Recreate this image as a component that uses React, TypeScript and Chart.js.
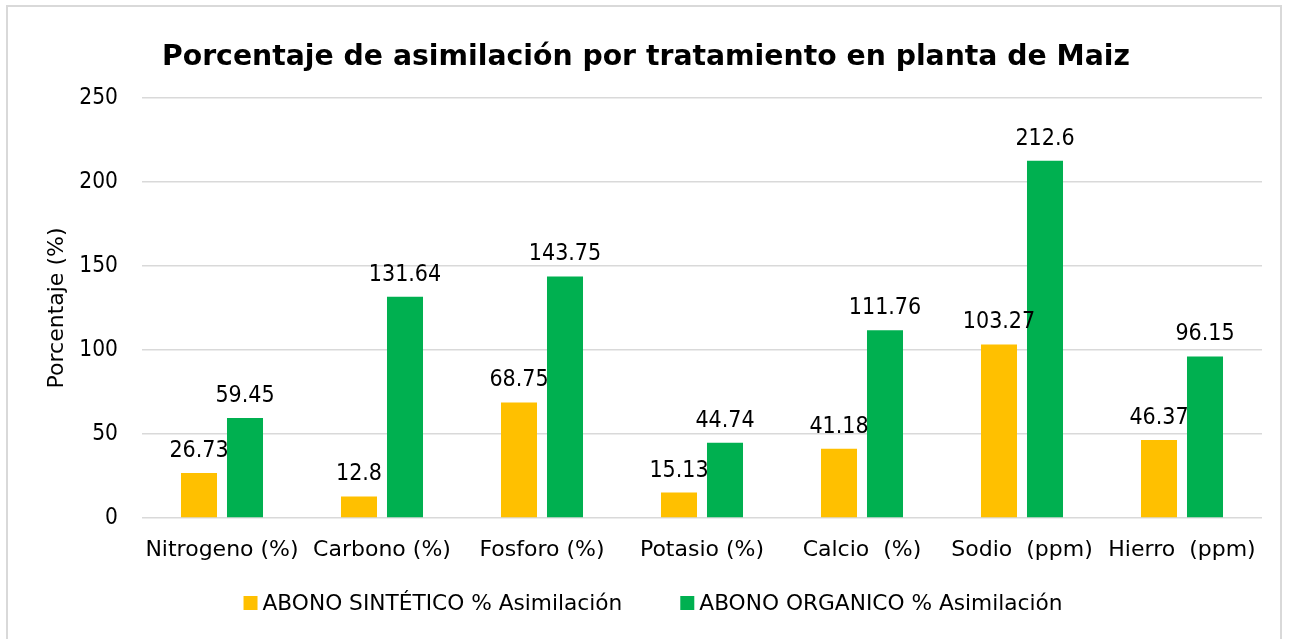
import React, { useEffect, useRef } from "react";
import { Chart, registerables } from "chart.js";

Chart.register(...registerables);

const categories = [
  "Nitrogeno (%)",
  "Carbono (%)",
  "Fosforo (%)",
  "Potasio (%)",
  "Calcio  (%)",
  "Sodio  (ppm)",
  "Hierro  (ppm)",
];
const sinteticoValues = [26.73, 12.8, 68.75, 15.13, 41.18, 103.27, 46.37];
const organicoValues = [59.45, 131.64, 143.75, 44.74, 111.76, 212.6, 96.15];
const yTickValues = [0, 50, 100, 150, 200, 250];
const seriesNames = ["ABONO SINTÉTICO % Asimilación", "ABONO ORGANICO % Asimilación"];
const seriesColors = ["#FFC000", "#00B050"];
const titleText = "Porcentaje de asimilación por tratamiento en planta de Maiz";
const yAxisTitle = "Porcentaje (%)";

const NUM_FONT = '"DejaVu Sans Condensed", "DejaVu Sans", sans-serif';
const TEXT_FONT = '"DejaVu Sans", sans-serif';

const valueLabels = {
  id: "valueLabels",
  afterDatasetsDraw(chart: any) {
    const ctx = chart.ctx;
    ctx.save();
    ctx.font = `23px ${NUM_FONT}`;
    ctx.fillStyle = "#000";
    ctx.textAlign = "center";
    ctx.textBaseline = "alphabetic";
    chart.data.datasets.forEach((ds: any, i: number) => {
      const meta = chart.getDatasetMeta(i);
      meta.data.forEach((el: any, j: number) => {
        ctx.fillText(String(ds.data[j]), el.x, el.y - 16);
      });
    });
    ctx.restore();
  },
};

const bottomLegend = {
  id: "bottomLegend",
  afterDraw(chart: any) {
    const ctx = chart.ctx;
    const box = 14;
    const gap = 5;
    const spacing = 58;
    const cy = 603;
    ctx.save();
    ctx.font = `21.7px ${TEXT_FONT}`;
    const items = chart.data.datasets.map((ds: any) => ({
      text: ds.label,
      color: ds.backgroundColor,
      w: box + gap + ctx.measureText(ds.label).width,
    }));
    const total = items.reduce((s: number, it: any) => s + it.w, 0) + spacing * (items.length - 1);
    let x = chart.width / 2 + 7 - total / 2;
    ctx.textAlign = "left";
    ctx.textBaseline = "middle";
    items.forEach((it: any) => {
      ctx.fillStyle = it.color;
      ctx.fillRect(x, cy - box / 2, box, box);
      ctx.fillStyle = "#000";
      ctx.fillText(it.text, x + box + gap, cy + 1);
      x += it.w + spacing;
    });
    ctx.restore();
  },
};

export default function App() {
  const ref = useRef<HTMLCanvasElement | null>(null);

  useEffect(() => {
    if (!ref.current) return;
    const chart = new Chart(ref.current, {
      type: "bar",
      data: {
        labels: categories,
        datasets: [
          {
            label: seriesNames[0],
            data: sinteticoValues,
            backgroundColor: seriesColors[0],
            barPercentage: 0.783,
            categoryPercentage: 0.575,
          },
          {
            label: seriesNames[1],
            data: organicoValues,
            backgroundColor: seriesColors[1],
            barPercentage: 0.783,
            categoryPercentage: 0.575,
          },
        ],
      },
      options: {
        responsive: false,
        animation: false,
        devicePixelRatio: 1,
        layout: { padding: { top: 20, left: 30, right: 30, bottom: 61 } },
        plugins: {
          title: {
            display: true,
            text: titleText,
            color: "#000",
            font: { family: TEXT_FONT, size: 28.3, weight: "bold" },
            padding: { top: 20.5, bottom: 23.5 },
          },
          legend: { display: false },
          tooltip: { enabled: false },
        },
        scales: {
          x: {
            afterFit(scale: any) {
              scale.height = 60;
            },
            grid: { display: false },
            border: { display: false },
            ticks: {
              color: "#000",
              padding: 11,
              maxRotation: 0,
              autoSkip: false,
              font: { family: TEXT_FONT, size: 22 },
            },
          },
          y: {
            min: 0,
            max: 250,
            afterFit(scale: any) {
              scale.width = 112;
            },
            afterBuildTicks(scale: any) {
              scale.ticks = yTickValues.map((v) => ({ value: v }));
            },
            grid: { color: "#D9D9D9", lineWidth: 1.5, drawTicks: false },
            border: { display: false },
            ticks: {
              color: "#000",
              padding: 24,
              font: { family: NUM_FONT, size: 22.5 },
            },
            title: {
              display: true,
              text: yAxisTitle,
              color: "#000",
              padding: 14,
              font: { family: TEXT_FONT, size: 22 },
            },
          },
        },
      },
      plugins: [valueLabels, bottomLegend],
    } as any);
    return () => chart.destroy();
  }, []);

  return (
    <div style={{ position: "fixed", left: 0, top: 0, width: 1292, height: 639, background: "#fff" }}>
      <div
        style={{
          position: "absolute",
          left: 6,
          top: 5,
          width: 1276,
          height: 650,
          border: "2px solid #D9D9D9",
          boxSizing: "border-box",
        }}
      />
      <canvas ref={ref} width={1292} height={639} style={{ position: "absolute", left: 0, top: 0 }} />
    </div>
  );
}
